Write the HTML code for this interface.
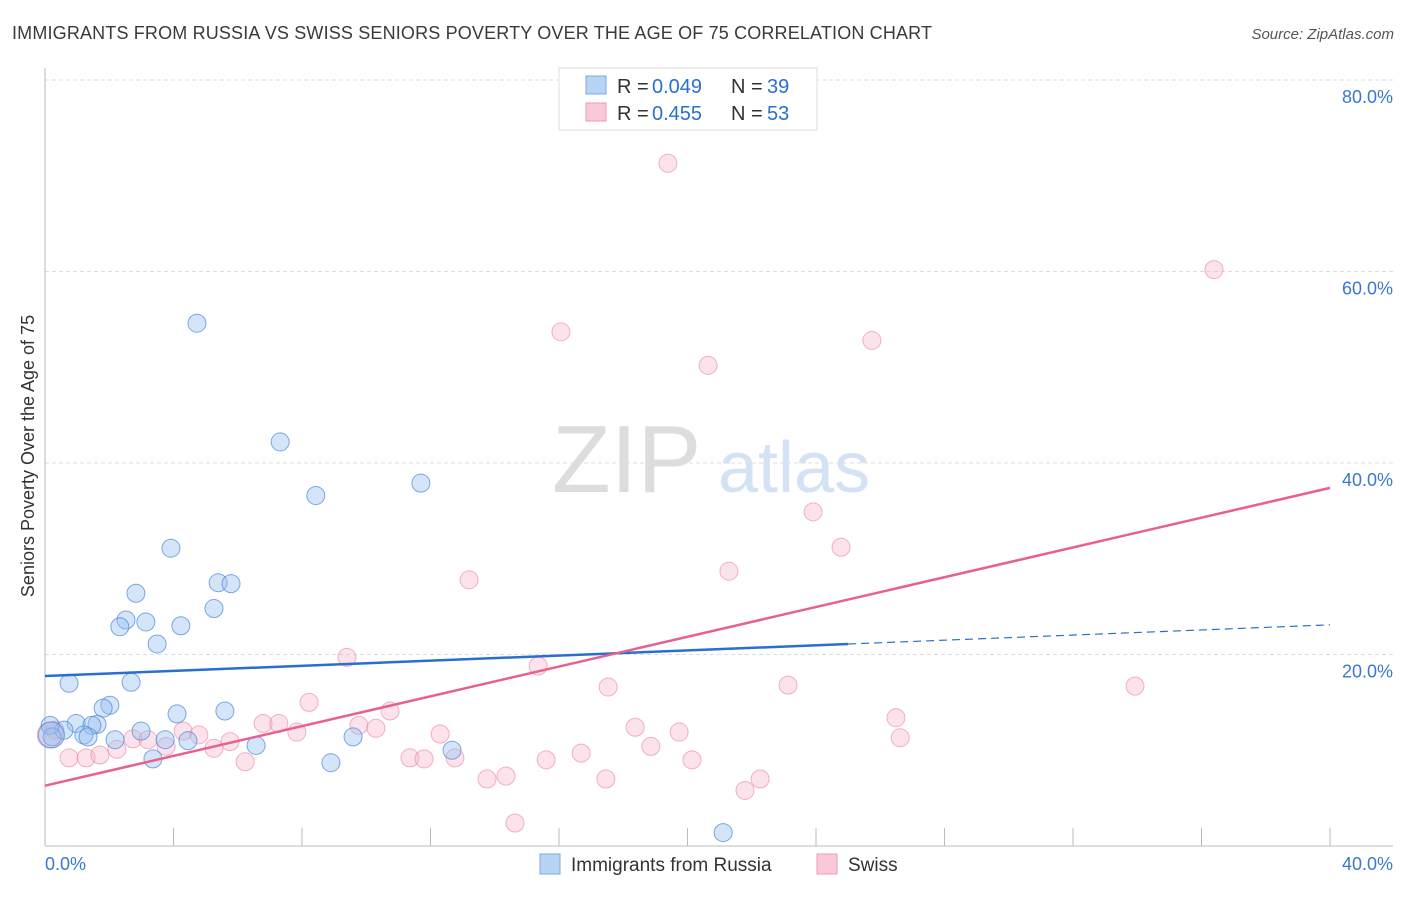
<!DOCTYPE html>
<html><head><meta charset="utf-8"><style>
body{margin:0;background:#fff;font-family:"Liberation Sans",sans-serif;}
svg text{font-family:"Liberation Sans",sans-serif;}
</style></head><body>
<svg id="chart" width="1406" height="892" xmlns="http://www.w3.org/2000/svg">
<text x="12" y="39" font-size="18" fill="#3a3a3a" textLength="920">IMMIGRANTS FROM RUSSIA VS SWISS SENIORS POVERTY OVER THE AGE OF 75 CORRELATION CHART</text>
<text x="1394" y="39" font-size="15" fill="#555" font-style="italic" text-anchor="end">Source: ZipAtlas.com</text>
<g>
<text x="552" y="492" font-size="96" fill="#ddd" font-family="Liberation Serif, serif">ZIP</text>
<text x="718" y="492" font-size="72" fill="#d3e3f5">atlas</text>
</g>
<g id="grid"></g>
<g id="axes"></g>
<g id="marks"></g>
<text transform="translate(34,456) rotate(-90)" font-size="18" fill="#333" text-anchor="middle">Seniors Poverty Over the Age of 75</text>
<g>
<rect x="559" y="68" width="258" height="62" fill="#fff" stroke="#ddd"/>
<rect x="586" y="76" width="20" height="18" fill="#b8d4f5" stroke="#7aaae0"/>
<rect x="586" y="103" width="20" height="18" fill="#f9c9d7" stroke="#ee9ab4"/>
<text x="617" y="93" font-size="20" fill="#333">R =</text>
<text x="652" y="93" font-size="20" fill="#2a6fd0">0.049</text>
<text x="731" y="93" font-size="20" fill="#333">N =</text>
<text x="767" y="93" font-size="20" fill="#2a6fd0">39</text>
<text x="617" y="120" font-size="20" fill="#333">R =</text>
<text x="652" y="120" font-size="20" fill="#2a6fd0">0.455</text>
<text x="731" y="120" font-size="20" fill="#333">N =</text>
<text x="767" y="120" font-size="20" fill="#2a6fd0">53</text>
</g>
<g>
<rect x="540" y="854" width="20" height="20" fill="#b8d4f5" stroke="#7aaae0"/>
<text x="571" y="871" font-size="19" fill="#333">Immigrants from Russia</text>
<rect x="817" y="854" width="20" height="20" fill="#f9c9d7" stroke="#ee9ab4"/>
<text x="848" y="871" font-size="19" fill="#333">Swiss</text>
</g>
</svg>
<script>
const xTicks=[0,40];
const yTicks=[20,40,60,80];
const blueX=[4.73,7.32,8.43,11.70,3.92,2.83,5.39,5.79,2.52,2.33,3.14,4.23,5.26,3.49,0.75,2.68,2.02,1.81,4.11,5.60,0.97,1.62,0.59,1.46,0.16,0.22,1.21,1.34,2.18,2.99,3.74,4.45,6.57,9.59,12.67,3.36,8.90,21.11,0.2];
const blueY=[54.6,42.2,36.6,37.9,31.1,26.4,27.5,27.4,23.6,22.9,23.4,23.0,24.8,21.1,17.0,17.1,14.7,14.4,13.8,14.1,12.8,12.7,12.1,12.6,12.6,11.4,11.6,11.4,11.1,12.0,11.1,11.0,10.5,11.4,10.0,9.1,8.7,1.4,11.6];
const pinkX=[19.39,36.39,16.06,25.74,20.64,23.91,24.78,13.20,21.29,9.40,15.35,8.22,17.53,23.13,33.93,10.74,6.79,7.28,9.77,10.30,7.84,12.30,4.30,4.79,18.37,19.74,26.49,26.62,2.74,3.21,5.76,3.77,5.26,2.24,16.69,18.86,0.75,1.28,1.71,6.23,11.36,11.80,12.76,15.60,20.14,13.76,14.35,17.46,22.26,21.79,14.63,0.31,0.16];
const pinkY=[71.3,60.2,53.7,52.8,50.2,34.9,31.2,27.8,28.7,19.7,18.8,15.0,16.6,16.8,16.7,14.1,12.8,12.8,12.6,12.3,11.9,11.7,12.0,11.6,12.4,11.9,13.4,11.3,11.2,11.1,10.9,10.4,10.2,10.1,9.7,10.4,9.2,9.2,9.5,8.8,9.2,9.1,9.2,9.0,9.0,7.0,7.3,7.0,7.0,5.8,2.4,12.1,11.6];
const blueTrend=[17.75,23.1];
const pinkTrend=[6.3,37.4];
const blueSolidEnd=25;

const NS="http://www.w3.org/2000/svg";
const X=v=>45+v/40*1285;
const Y=v=>846-v*9.575;
function mk(tag,attrs,parent){const e=document.createElementNS(NS,tag);for(const k in attrs)e.setAttribute(k,attrs[k]);parent.appendChild(e);return e;}
const grid=document.getElementById('grid'),axes=document.getElementById('axes'),marks=document.getElementById('marks');
yTicks.forEach(t=>{
 const l=mk('line',{x1:45,x2:1393,y1:Y(t),y2:Y(t),stroke:'#ddd','stroke-dasharray':'4,3'},grid);
 
 
 const tx=mk('text',{x:1393,y:Y(t)+23,'font-size':18,fill:'#3a78d0','text-anchor':'end'},axes);
 tx.textContent=t.toFixed(1)+'%';
 
 
});
const ax=mk('line',{x1:45,x2:45,y1:68,y2:846,stroke:'#bbb'},axes);


const bx=mk('line',{x1:45,x2:1393,y1:846,y2:846,stroke:'#bbb'},axes);


for(let i=0;i<=10;i++){
 const t=mk('line',{x1:X(i*4),x2:X(i*4),y1:828,y2:846,stroke:'#bbb'},axes);
 
 
}
xTicks.forEach((t,i)=>{
 const tx=mk('text',{x:i==0?45:1393,y:870,'font-size':18,fill:'#3a78d0','text-anchor':i==0?'start':'end'},axes);
 tx.textContent=t.toFixed(1)+'%';
 
 
});
function dots(xs,ys,fill,stroke,name){
 xs.forEach((v,i)=>{
  const big=i===xs.length-1;
  const c=mk('circle',{cx:X(v),cy:Y(ys[i]),r:big?13:9,fill:fill,stroke:stroke,'stroke-width':1},marks);
  
  
 });
}
dots(pinkX,pinkY,'rgba(246,175,198,0.35)','rgba(232,130,162,0.6)','swiss-point');
dots(blueX,blueY,'rgba(150,190,240,0.4)','rgba(70,135,215,0.7)','russia-point');
const bv=x=>blueTrend[0]+(blueTrend[1]-blueTrend[0])*x/40;
const l1=mk('line',{x1:X(0),y1:Y(bv(0)),x2:X(blueSolidEnd),y2:Y(bv(blueSolidEnd)),stroke:'#2a6fd0','stroke-width':2.5},marks);


const l2=mk('line',{x1:X(blueSolidEnd),y1:Y(bv(blueSolidEnd)),x2:X(40),y2:Y(bv(40)),stroke:'#2a6fd0','stroke-width':1.2,'stroke-dasharray':'8,5'},marks);


const l3=mk('line',{x1:X(0),y1:Y(pinkTrend[0]),x2:X(40),y2:Y(pinkTrend[1]),stroke:'#e8608e','stroke-width':2.5},marks);


</script>
</body></html>
